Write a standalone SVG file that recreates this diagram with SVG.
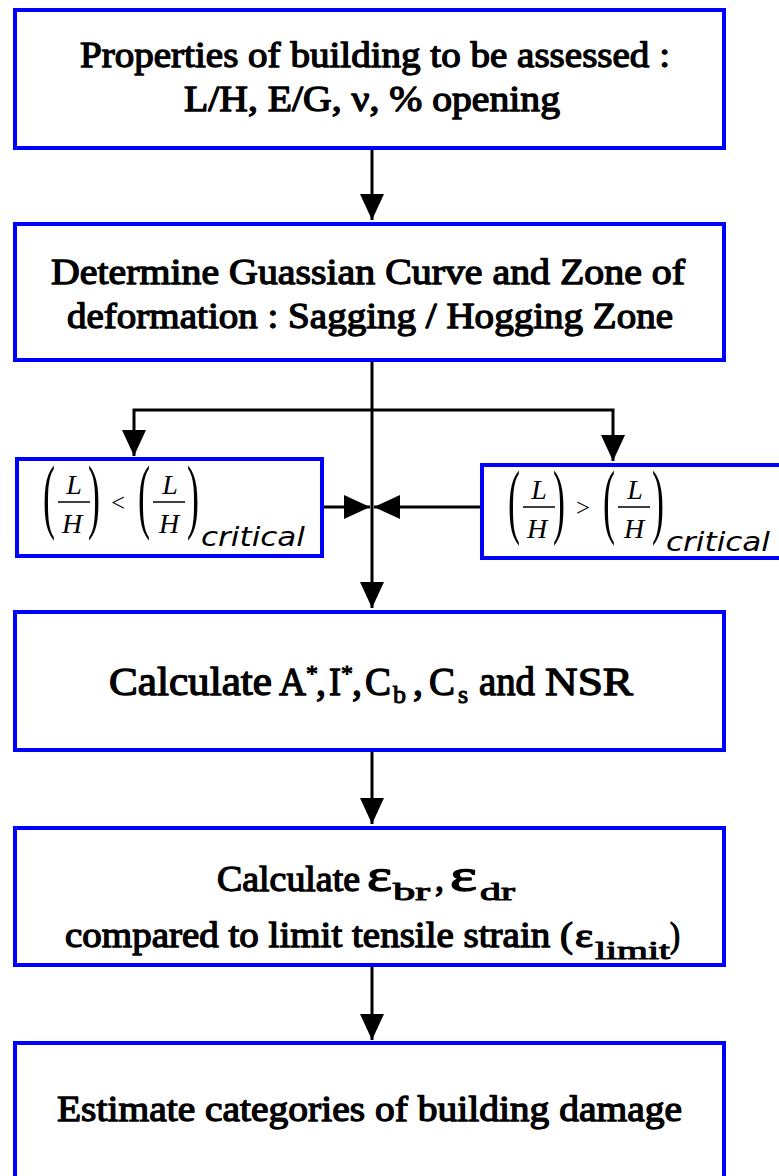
<svg xmlns="http://www.w3.org/2000/svg" width="779" height="1176" viewBox="0 0 779 1176">
<style>
.box{fill:#ffffff;stroke:#0000ff;stroke-width:4}
.t{font-family:"Liberation Serif","Times New Roman",serif;font-weight:normal;font-size:36px;fill:#000;stroke:#000;stroke-width:1.3px;stroke-linejoin:round}
.sub{font-family:"Liberation Serif","Times New Roman",serif;font-weight:normal;font-size:26px;fill:#000;stroke:#000;stroke-width:1px;stroke-linejoin:round}
.m{font-family:"Liberation Serif","Times New Roman",serif;font-style:italic;font-size:28px;fill:#000}
.p{font-family:"Liberation Serif","Times New Roman",serif;font-size:82px;fill:#000}
.op{font-family:"Liberation Serif","Times New Roman",serif;font-size:26px;fill:#000}
.crit{font-family:"DejaVu Sans","Liberation Sans",sans-serif;font-style:italic;font-size:26px;fill:#000}
.c{fill:none;stroke:#000;stroke-width:3}
.bar{stroke:#000;stroke-width:1.5}
</style>
<defs>
<marker id="ah" markerUnits="userSpaceOnUse" markerWidth="26" markerHeight="24" refX="26" refY="12" orient="auto" viewBox="0 0 26 24">
<path d="M0,0 L26,12 L0,24 z" fill="#000"/>
</marker>
</defs>
<rect width="779" height="1176" fill="#ffffff"/>

<g id="connectors">
<path class="c" d="M372,150 V220" marker-end="url(#ah)"/>
<path class="c" d="M372,362 V608" marker-end="url(#ah)"/>
<path class="c" d="M372,410 H134 V456" marker-end="url(#ah)"/>
<path class="c" d="M372,410 H613 V461" marker-end="url(#ah)"/>
<path class="c" d="M324,507 H370" marker-end="url(#ah)"/>
<path class="c" d="M480,507 H374" marker-end="url(#ah)"/>
<path class="c" d="M372,752 V824" marker-end="url(#ah)"/>
<path class="c" d="M372,967 V1040" marker-end="url(#ah)"/>
</g>

<g id="node-properties">
<rect class="box" x="15" y="10" width="709" height="138"/>
<text class="t" x="80" y="67" textLength="590" lengthAdjust="spacingAndGlyphs">Properties of building to be assessed :</text>
<text class="t" x="184" y="111" textLength="376" lengthAdjust="spacingAndGlyphs">L/H, E/G, ν, % opening</text>
</g>

<g id="node-gaussian">
<rect class="box" x="15" y="224" width="709" height="136"/>
<text class="t" x="51" y="284" textLength="634" lengthAdjust="spacingAndGlyphs">Determine Guassian  Curve and Zone of</text>
<text class="t" x="67" y="328" textLength="606" lengthAdjust="spacingAndGlyphs">deformation : Sagging / Hogging Zone</text>
</g>

<g id="node-less">
<rect class="box" x="17" y="459" width="305" height="97"/>
<g id="formula-less">
<text class="p" transform="translate(43,523) scale(0.44,1)">(</text>
<text class="m" x="74" y="494" text-anchor="middle">L</text>
<line class="bar" x1="58" y1="502" x2="90" y2="502"/>
<text class="m" x="72" y="533" text-anchor="middle">H</text>
<text class="p" transform="translate(88,523) scale(0.44,1)">)</text>
<text class="op" x="111" y="511" textLength="14" lengthAdjust="spacingAndGlyphs">&lt;</text>
<text class="p" transform="translate(138,523) scale(0.44,1)">(</text>
<text class="m" x="170" y="494" text-anchor="middle">L</text>
<line class="bar" x1="153" y1="502" x2="185" y2="502"/>
<text class="m" x="169" y="533" text-anchor="middle">H</text>
<text class="p" transform="translate(187,523) scale(0.44,1)">)</text>
<text class="crit" x="201" y="546" textLength="104" lengthAdjust="spacingAndGlyphs">critical</text>
</g>
</g>

<g id="node-greater">
<rect class="box" x="482" y="465" width="320" height="93"/>
<g id="formula-greater" transform="translate(465,5)">
<text class="p" transform="translate(43,523) scale(0.44,1)">(</text>
<text class="m" x="74" y="494" text-anchor="middle">L</text>
<line class="bar" x1="58" y1="502" x2="90" y2="502"/>
<text class="m" x="72" y="533" text-anchor="middle">H</text>
<text class="p" transform="translate(88,523) scale(0.44,1)">)</text>
<text class="op" x="111" y="511" textLength="14" lengthAdjust="spacingAndGlyphs">&gt;</text>
<text class="p" transform="translate(138,523) scale(0.44,1)">(</text>
<text class="m" x="170" y="494" text-anchor="middle">L</text>
<line class="bar" x1="153" y1="502" x2="185" y2="502"/>
<text class="m" x="169" y="533" text-anchor="middle">H</text>
<text class="p" transform="translate(187,523) scale(0.44,1)">)</text>
<text class="crit" x="201" y="546" textLength="104" lengthAdjust="spacingAndGlyphs">critical</text>
</g>
</g>

<g id="node-calc1">
<rect class="box" x="15" y="612" width="709" height="138"/>
<text class="t" style="font-size:40px" x="109" y="695" textLength="163" lengthAdjust="spacingAndGlyphs">Calculate</text>
<text class="t" style="font-size:40px" x="279" y="695" textLength="27" lengthAdjust="spacingAndGlyphs">A</text>
<text class="sub" style="font-size:24px" x="306" y="681">*</text>
<text class="t" style="font-size:40px" x="316" y="695">,</text>
<text class="t" style="font-size:40px" x="329" y="695" textLength="12" lengthAdjust="spacingAndGlyphs">I</text>
<text class="sub" style="font-size:24px" x="341" y="681">*</text>
<text class="t" style="font-size:40px" x="352" y="695">,</text>
<text class="t" style="font-size:40px" x="365" y="695" textLength="26" lengthAdjust="spacingAndGlyphs">C</text>
<text class="sub" x="393" y="703">b</text>
<text class="t" style="font-size:40px" x="413" y="695">,</text>
<text class="t" style="font-size:40px" x="429" y="695" textLength="26" lengthAdjust="spacingAndGlyphs">C</text>
<text class="sub" x="458" y="703">s</text>
<text class="t" style="font-size:40px" x="479" y="695" textLength="56" lengthAdjust="spacingAndGlyphs">and</text>
<text class="t" style="font-size:40px" x="545" y="695" textLength="88" lengthAdjust="spacingAndGlyphs">NSR</text>
</g>

<g id="node-calc2">
<rect class="box" x="15" y="828" width="709" height="137"/>
<text class="t" x="217" y="891" textLength="143" lengthAdjust="spacingAndGlyphs">Calculate</text>
<text class="t" style="font-size:46px" x="367" y="891" textLength="25" lengthAdjust="spacingAndGlyphs">ε</text>
<text class="sub" x="393" y="900" textLength="37" lengthAdjust="spacingAndGlyphs">br</text>
<text class="t" x="435" y="891">,</text>
<text class="t" style="font-size:46px" x="450" y="891" textLength="27" lengthAdjust="spacingAndGlyphs">ε</text>
<text class="sub" x="480" y="900" textLength="35" lengthAdjust="spacingAndGlyphs">dr</text>
<text class="t" x="65" y="947" textLength="508" lengthAdjust="spacingAndGlyphs">compared to limit  tensile  strain (</text>
<text class="t" style="font-size:34px" x="575" y="947" textLength="18" lengthAdjust="spacingAndGlyphs">ε</text>
<text class="sub" x="595" y="959" textLength="75" lengthAdjust="spacingAndGlyphs">limit</text>
<text class="t" x="670" y="947" textLength="10" lengthAdjust="spacingAndGlyphs">)</text>
</g>

<g id="node-estimate">
<rect class="box" x="15" y="1043" width="709" height="150"/>
<text class="t" x="57" y="1121" textLength="625" lengthAdjust="spacingAndGlyphs">Estimate categories of building damage</text>
</g>
</svg>
